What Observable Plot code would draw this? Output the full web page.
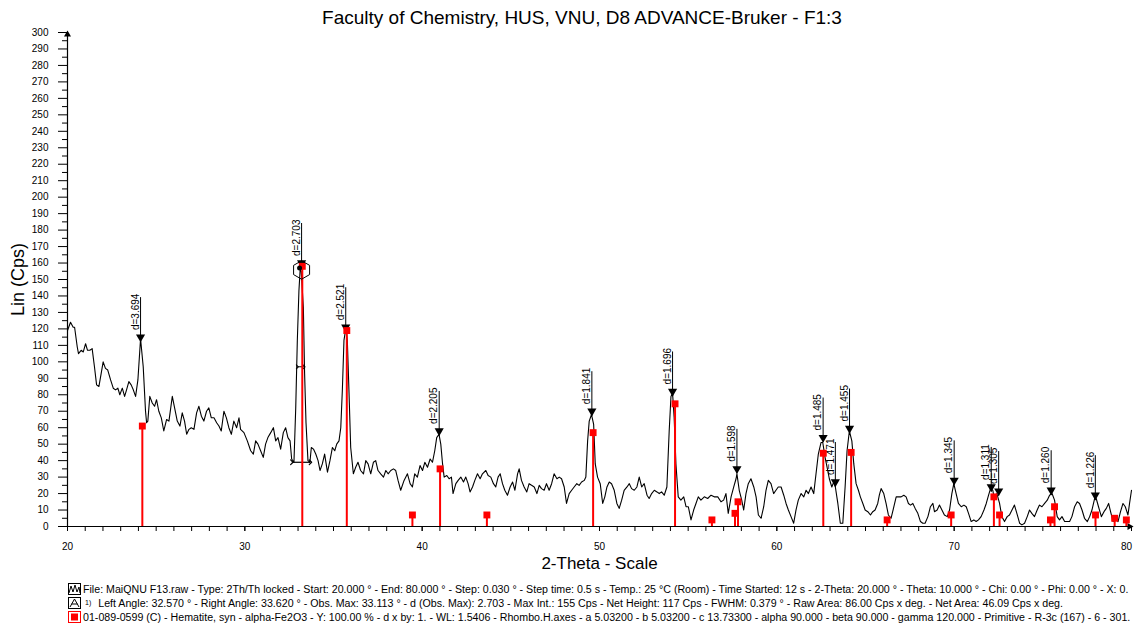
<!DOCTYPE html>
<html><head><meta charset="utf-8">
<script src="https://cdn.jsdelivr.net/npm/d3@7"></script>
<script src="https://cdn.jsdelivr.net/npm/@observablehq/plot@0.6"></script>
<style>
body{margin:0;background:#fff;font-family:"Liberation Sans",Arial,sans-serif;width:1134px;height:624px;overflow:hidden;position:relative;color:#000}
#title{position:absolute;top:7px;left:582px;transform:translateX(-50%);font-size:19px;white-space:nowrap;line-height:22px}
#chart{position:absolute;top:28px;left:0}
#legend{position:absolute;top:582px;left:68px;font-size:10.65px;line-height:14px;white-space:nowrap}
.row{display:flex;align-items:center;height:14px}
.row svg{margin-right:2px;flex:none}
.sup{font-size:7px;margin:0 7px 0 2px}
</style></head><body>
<div id="title"></div><div id="chart"></div><div id="legend"></div>
<script>
const titleText = "Faculty of Chemistry, HUS, VNU, D8 ADVANCE-Bruker - F1:3";
const xLabel = "2-Theta - Scale";
const yLabel = "Lin (Cps)";
const xTickLabels = [20, 30, 40, 50, 60, 70, 80];
const yTickLabels = [0,10,20,30,40,50,60,70,80,90,100,110,120,130,140,150,160,170,180,190,200,210,220,230,240,250,260,270,280,290,300];

// measured scan: [2-theta, counts]
const scan = [
[20.00,119],[20.17,124],[20.32,121],[20.40,121],[20.55,109],[20.62,105],[20.77,107],[20.89,106],[21.02,111],[21.13,107],
[21.26,107],[21.39,108],[21.52,97],[21.64,86],[21.77,85],[21.90,93],[22.01,100],[22.14,96],[22.27,95],[22.43,89],
[22.58,84],[22.71,83],[22.84,84],[22.95,80],[23.09,84],[23.22,79],[23.33,83],[23.46,88],[23.59,86],[23.71,83],
[23.84,79],[23.97,89],[24.12,114],[24.27,97],[24.40,70],[24.46,63],[24.53,64],[24.64,79],[24.78,75],[24.91,73],
[25.02,77],[25.15,70],[25.29,66],[25.43,58],[25.59,65],[25.72,64],[25.91,79],[26.04,72],[26.19,64],[26.34,61],
[26.47,69],[26.60,64],[26.72,56],[26.85,59],[26.98,60],[27.13,59],[27.28,69],[27.41,73],[27.55,67],[27.69,64],
[27.84,70],[27.97,72],[28.11,66],[28.26,66],[28.41,63],[28.54,61],[28.67,58],[28.82,70],[28.96,66],[29.10,60],
[29.24,56],[29.38,64],[29.54,60],[29.67,66],[29.76,59],[29.95,57],[30.14,52],[30.33,46],[30.48,44],[30.61,52],
[30.74,50],[30.89,46],[31.04,42],[31.17,50],[31.30,54],[31.46,57],[31.61,60],[31.74,52],[31.87,54],[32.02,47],
[32.17,57],[32.30,60],[32.43,54],[32.55,52],[32.64,41],[32.77,39],[32.87,72],[32.96,113],[33.05,143],[33.12,156],
[33.18,155],[33.30,133],[33.37,93],[33.45,63],[33.56,40],[33.67,39],[33.75,48],[33.87,47],[34.00,44],[34.13,40],
[34.24,34],[34.37,38],[34.50,44],[34.66,33],[34.80,40],[34.94,48],[35.07,46],[35.18,50],[35.31,52],[35.41,60],
[35.50,83],[35.59,113],[35.69,120],[35.78,113],[35.87,83],[35.97,48],[36.12,32],[36.25,36],[36.38,39],[36.53,34],
[36.69,32],[36.82,40],[36.95,38],[37.10,32],[37.25,39],[37.38,40],[37.51,34],[37.66,32],[37.82,30],[37.95,34],
[38.08,32],[38.23,34],[38.38,35],[38.51,34],[38.64,28],[38.79,22],[38.98,28],[39.17,32],[39.32,26],[39.45,24],
[39.58,32],[39.73,30],[39.88,37],[40.02,34],[40.15,39],[40.30,36],[40.45,41],[40.58,39],[40.71,46],[40.82,54],
[40.95,56],[41.05,50],[41.15,38],[41.24,30],[41.39,31],[41.52,29],[41.65,30],[41.74,20],[41.90,26],[42.03,28],
[42.18,30],[42.33,27],[42.46,30],[42.59,26],[42.70,21],[42.84,24],[42.97,28],[43.12,32],[43.27,29],[43.40,32],
[43.59,34],[43.72,31],[43.87,30],[44.02,26],[44.15,24],[44.28,30],[44.40,32],[44.53,26],[44.66,22],[44.81,19],
[44.96,24],[45.10,27],[45.23,22],[45.38,32],[45.47,35],[45.60,28],[45.75,24],[45.90,21],[46.03,26],[46.17,25],
[46.32,24],[46.47,20],[46.60,25],[46.73,23],[46.88,22],[47.01,26],[47.16,22],[47.30,26],[47.44,32],[47.60,29],
[47.73,30],[47.86,29],[48.01,24],[48.14,14],[48.29,20],[48.43,22],[48.57,24],[48.72,26],[48.85,25],[48.99,27],
[49.14,28],[49.23,30],[49.33,52],[49.42,64],[49.55,68],[49.67,62],[49.76,38],[49.89,30],[50.04,26],[50.18,14],
[50.30,18],[50.42,24],[50.55,27],[50.68,26],[50.83,22],[50.98,14],[51.11,11],[51.25,16],[51.39,22],[51.55,24],
[51.68,26],[51.81,23],[51.96,22],[52.11,24],[52.24,30],[52.38,24],[52.52,26],[52.68,19],[52.80,17],[52.94,20],
[53.09,22],[53.24,21],[53.37,20],[53.50,21],[53.65,19],[53.80,24],[53.93,58],[54.03,79],[54.12,81],[54.21,66],
[54.31,38],[54.44,18],[54.59,16],[54.75,18],[54.88,12],[55.01,12],[55.16,4],[55.31,10],[55.44,14],[55.57,18],
[55.72,16],[55.91,18],[56.10,17],[56.29,19],[56.47,18],[56.67,18],[56.85,15],[57.00,16],[57.13,20],[57.26,8],
[57.42,18],[57.57,24],[57.70,29],[57.75,32],[57.88,22],[58.02,16],[58.13,10],[58.26,20],[58.39,26],[58.54,29],
[58.70,24],[58.83,18],[58.96,7],[59.11,5],[59.26,12],[59.39,22],[59.52,28],[59.67,26],[59.82,20],[59.95,22],
[60.08,24],[60.24,24],[60.39,19],[60.52,14],[60.65,10],[60.80,6],[60.95,2],[61.08,10],[61.21,16],[61.37,20],
[61.52,18],[61.65,22],[61.78,20],[61.93,24],[62.08,20],[62.21,32],[62.34,44],[62.49,51],[62.59,51],[62.72,42],
[62.87,34],[62.96,29],[63.10,24],[63.21,27],[63.30,24],[63.44,14],[63.58,2],[63.72,2],[63.85,24],[63.96,46],
[64.09,58],[64.23,52],[64.34,38],[64.47,26],[64.60,22],[64.71,18],[64.85,14],[64.98,10],[65.13,9],[65.28,7],
[65.41,9],[65.54,10],[65.69,14],[65.78,19],[65.88,23],[66.03,20],[66.16,14],[66.29,7],[66.44,5],[66.60,12],
[66.73,18],[66.86,18],[67.01,18],[67.16,19],[67.29,18],[67.42,14],[67.54,13],[67.67,14],[67.80,11],[67.95,8],
[68.10,3],[68.23,2],[68.36,2],[68.52,6],[68.66,12],[68.80,14],[68.89,9],[69.04,10],[69.17,13],[69.31,10],
[69.45,7],[69.61,6],[69.74,10],[69.87,20],[69.98,26],[70.11,20],[70.24,14],[70.40,12],[70.55,13],[70.68,12],
[70.81,8],[70.96,3],[71.11,4],[71.24,3],[71.37,4],[71.52,6],[71.68,10],[71.81,14],[71.94,19],[72.05,23],
[72.18,22],[72.27,16],[72.41,20],[72.56,14],[72.69,6],[72.84,3],[72.99,6],[73.12,7],[73.26,10],[73.40,13],
[73.56,7],[73.69,2],[73.82,1],[73.97,2],[74.12,6],[74.25,10],[74.38,8],[74.53,6],[74.68,10],[74.81,13],
[74.95,12],[75.10,14],[75.25,16],[75.38,19],[75.52,20],[75.66,16],[75.81,6],[75.94,4],[76.08,6],[76.23,3],
[76.38,3],[76.51,3],[76.64,6],[76.79,12],[76.94,15],[77.07,14],[77.21,10],[77.35,5],[77.51,3],[77.64,6],
[77.77,10],[77.92,17],[78.01,17],[78.14,12],[78.30,6],[78.45,9],[78.58,11],[78.71,14],[78.82,9],[78.96,3],
[79.09,5],[79.24,3],[79.38,9],[79.52,14],[79.65,12],[79.80,7],[79.89,14],[80.00,22]
];

// Hematite reference pattern (01-089-0599) as drawn
const stickTheta  = [24.22, 33.24, 35.75, 39.45, 41.01, 43.65, 49.64, 54.26, 56.34, 57.64, 57.81, 62.62, 64.19, 66.22, 69.83, 72.24, 72.56, 75.43, 75.66, 77.97, 79.05, 79.71];
const stickHeight = [61, 158, 119, 7, 35, 7, 57, 74.5, 4, 8, 15, 44.5, 45, 4, 7, 18, 7, 4, 12, 7, 5, 4];

// labelled peaks
const peakTheta  = [24.12, 33.20, 35.69, 40.96, 49.57, 54.12, 57.75, 62.61, 63.30, 64.10, 70.00, 72.09, 72.51, 75.47, 77.96];
const peakCounts = [112, 157, 118, 55, 67, 79, 32, 51, 24, 56.5, 25, 21, 18.5, 19, 16];
const peakLabels = ["d=3.694","d=2.703","d=2.521","d=2.205","d=1.841","d=1.696","d=1.598","d=1.485","d=1.471","d=1.455","d=1.345","d=1.311","d=1.305","d=1.260","d=1.226"];

// area 1) of the 2.703 peak
const areaBounds = [32.65, 33.70];
const areaBase = [39];
const fwhmBounds = [32.96, 33.34];
const fwhmLevel = [97];

const legendLines = [
  "File: MaiQNU F13.raw - Type: 2Th/Th locked - Start: 20.000 ° - End: 80.000 ° - Step: 0.030 ° - Step time: 0.5 s - Temp.: 25 °C (Room) - Time Started: 12 s - 2-Theta: 20.000 ° - Theta: 10.000 ° - Chi: 0.00 ° - Phi: 0.00 ° - X: 0.",
  "Left Angle: 32.570 ° - Right Angle: 33.620 ° - Obs. Max: 33.113 ° - d (Obs. Max): 2.703 - Max Int.: 155 Cps - Net Height: 117 Cps - FWHM: 0.379 ° - Raw Area: 86.00 Cps x deg. - Net Area: 46.09 Cps x deg.",
  "01-089-0599 (C) - Hematite, syn - alpha-Fe2O3 - Y: 100.00 % - d x by: 1. - WL: 1.5406 - Rhombo.H.axes - a 5.03200 - b 5.03200 - c 13.73300 - alpha 90.000 - beta 90.000 - gamma 120.000 - Primitive - R-3c (167) - 6 - 301."
];

const sticks = stickTheta.map((t, i) => ({t, h: stickHeight[i]}));
const peaks = peakTheta.map((t, i) => ({t, c: peakCounts[i], label: peakLabels[i]}));
const xMinor = d3.range(20, 81, 1);
const yMinor = d3.range(5, 300, 10);
const xInner = xTickLabels.slice(0, -1);
const xLast = xTickLabels.slice(-1);
const RED = "#ff0000";

document.getElementById("title").textContent = titleText;

const chart = Plot.plot({
  width: 1134, height: 550,
  marginLeft: 67, marginRight: 3, marginTop: 4, marginBottom: 52,
  x: {domain: [20, 80]},
  y: {domain: [0, 300]},
  style: {fontFamily: "'Liberation Sans', Arial, sans-serif", fontSize: "10px", color: "#000", background: "#fff", overflow: "visible"},
  marks: [
    Plot.axisX(xMinor, {tickSize: 5, tickFormat: () => "", label: null}),
    Plot.axisX(xInner, {tickSize: 5, tickPadding: 11, fontSize: 10, label: null}),
    Plot.axisX(xLast, {tickSize: 0, tickPadding: 16, fontSize: 10, label: null, dx: -5}),
    Plot.axisY(yMinor, {tickSize: 5, tickFormat: () => "", label: null}),
    Plot.axisY(yTickLabels, {tickSize: 9, tickPadding: 10, fontSize: 10, label: null}),
    Plot.ruleX([20], {y1: 0, y2: 300, stroke: "#000", strokeWidth: 1.2}),
    Plot.ruleY([0], {x1: 20, x2: 80, stroke: "#000", strokeWidth: 1.2}),
    Plot.dot([{x: 20, y: 300}], {x: "x", y: "y", symbol: "triangle", r: 2.6, fill: "#000", dy: 2}),
    Plot.dot([{x: 80, y: 0}], {x: "x", y: "y", symbol: "triangle", r: 2.6, fill: "#000", rotate: 90, dx: -2}),
    Plot.text([xLabel], {frameAnchor: "bottom", dy: 42, fontSize: 17}),
    Plot.text([yLabel], {frameAnchor: "left", textAnchor: "middle", rotate: -90, dx: -49, fontSize: 18}),
    Plot.line(scan, {x: d => d[0], y: d => d[1], stroke: "#000", strokeWidth: 1.1}),
    Plot.ruleX(peaks, {x: "t", y1: "c", y2: d => d.c + 27, stroke: "#000", strokeWidth: 1}),
    Plot.dot(peaks, {x: "t", y: "c", symbol: "triangle", r: 3.4, fill: "#000", rotate: 180, dy: -5}),
    Plot.text(peaks, {x: "t", y: "c", text: "label", rotate: -90, textAnchor: "start", dx: -5, dy: -12, fontSize: 10}),
    Plot.link(areaBase, {x1: areaBounds[0], x2: areaBounds[1], y1: d => d, y2: d => d, stroke: "#000", strokeWidth: 1.2, markerStart: "arrow", markerEnd: "arrow"}),
    Plot.link(fwhmLevel, {x1: fwhmBounds[0], x2: fwhmBounds[1], y1: d => d, y2: d => d, stroke: "#000", strokeWidth: 1, markerStart: "arrow", markerEnd: "arrow"}),
    Plot.ruleX(sticks, {x: "t", y1: 0, y2: "h", stroke: RED, strokeWidth: 2}),
    Plot.dot(sticks, {x: "t", y: "h", symbol: "square", r: 3.9, fill: RED}),
    Plot.dot([peaks[1]], {x: "t", y: "c", r: 2.5, fill: "#000", dx: -2}),
    Plot.dot([peaks[1]], {x: "t", y: "c", symbol: "hexagon", r: 8, stroke: "#000", strokeWidth: 1, fill: "none", dy: 2})
  ]
});
document.getElementById("chart").appendChild(chart);

// legend
const icons = [
  '<svg width="13" height="12"><rect x="0.5" y="0.5" width="12" height="11" fill="none" stroke="#000"/><polyline points="1,10 3,3 5,9 7,2 9,9 11,4 12,10" fill="none" stroke="#000" stroke-width="1"/></svg>',
  '<svg width="13" height="12"><rect x="0.5" y="0.5" width="12" height="11" fill="none" stroke="#000"/><polyline points="2,10 6.5,2 11,10" fill="none" stroke="#000"/><line x1="3.5" y1="7" x2="9.5" y2="7" stroke="#000"/></svg>',
  '<svg width="13" height="12"><rect x="0.5" y="0.5" width="12" height="11" fill="none" stroke="' + RED + '"/><rect x="3" y="2.5" width="7" height="7" fill="' + RED + '"/></svg>'
];
const legend = document.getElementById("legend");
legendLines.forEach((t, i) => {
  const row = document.createElement("div");
  row.className = "row";
  row.innerHTML = icons[i] + (i === 1 ? '<span class="sup">1)</span>' : '');
  const span = document.createElement("span");
  span.textContent = t;
  row.appendChild(span);
  legend.appendChild(row);
});
</script>
</body></html>
